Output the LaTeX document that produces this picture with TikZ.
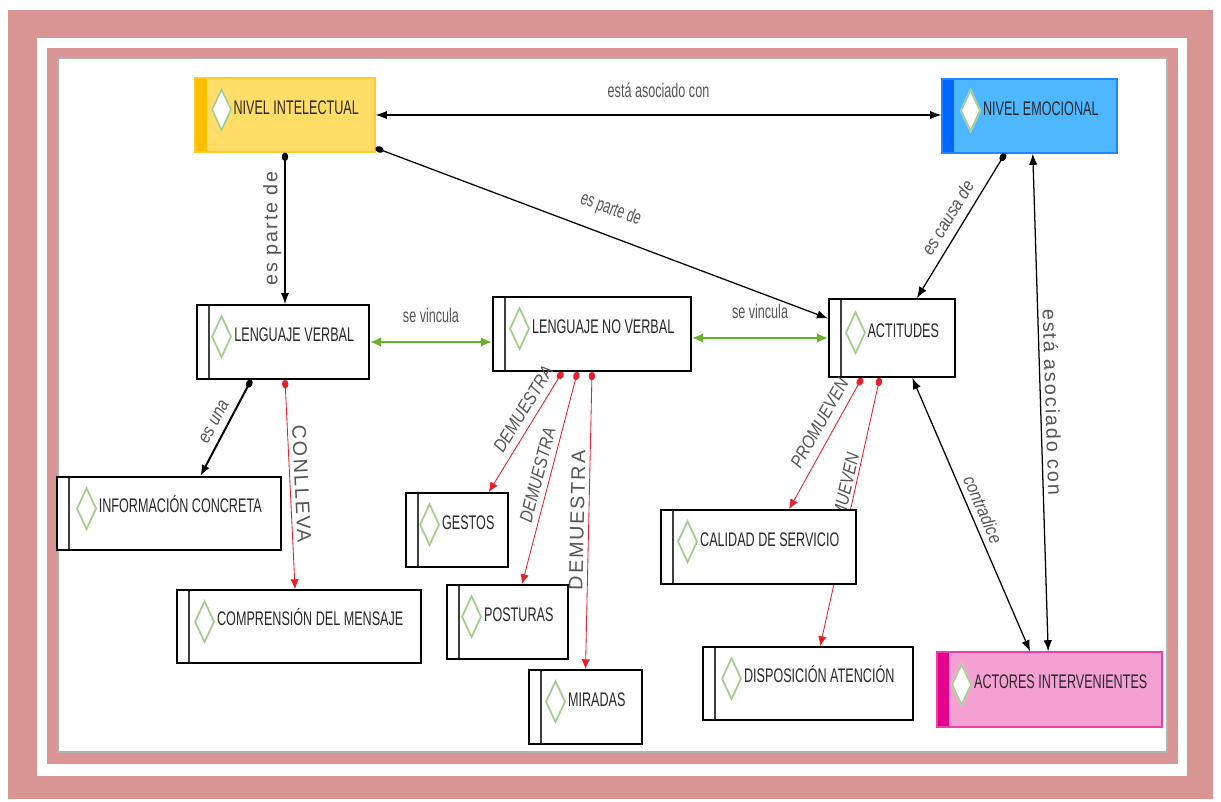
\documentclass[tikz,border=0pt]{standalone}
\usepackage{fontspec}
\usepackage{graphicx}
\setmainfont{Liberation Sans}
\newfontfamily\boxfont[FakeStretch=0.64]{Liberation Sans}
\newfontfamily\slfont[FakeStretch=0.85]{Liberation Sans}
\newfontfamily\widefont[LetterSpace=10]{Liberation Sans}
\newfontfamily\symfont{DejaVu Sans}
\usetikzlibrary{arrows.meta}

\definecolor{framepink}{RGB}{217,149,148}
\definecolor{yelfill}{RGB}{255,221,102}
\definecolor{yelbar}{RGB}{255,190,0}
\definecolor{bluefill}{RGB}{77,184,255}
\definecolor{bluebar}{RGB}{0,102,255}
\definecolor{pinkfill}{RGB}{245,160,210}
\definecolor{pinkbar}{RGB}{230,0,140}
\definecolor{dmdgreen}{RGB}{160,205,140}
\definecolor{linkgreen}{RGB}{104,178,40}
\definecolor{linkred}{RGB}{232,30,40}
\definecolor{boxtext}{RGB}{40,40,40}
\definecolor{lbltext}{RGB}{85,85,85}

\newcommand{\dmd}{\raisebox{-8pt}{\resizebox{15pt}{27pt}{\symfont\rlap{\color{white}◆}\color{dmdgreen}◇}}\hspace{1pt}}

\tikzset{
  boxbase/.style={rectangle, text=boxtext, font=\boxfont\fontsize{14}{16}\selectfont,
    text height=10pt, text depth=11pt, inner sep=2pt},
  cbox/.style={boxbase, draw=black, line width=1.2pt, fill=white,
    path picture={\draw[line width=0.9pt, black!75] ([xshift=8.5pt]path picture bounding box.south west) -- ([xshift=8.5pt]path picture bounding box.north west);}},
  keybox/.style={boxbase, draw=#1bar!60!#1fill, line width=0.8pt, fill=#1fill,
    path picture={\fill[#1bar] (path picture bounding box.south west) rectangle ([xshift=8.5pt]path picture bounding box.north west);}},
  blk/.style={draw=black, line width=0.9pt, {Circle[length=6pt,width=4.5pt]}-{Latex[length=8pt,width=6pt]}},
  blkboth/.style={draw=black, line width=0.9pt, {Latex[length=8pt,width=6pt]}-{Latex[length=8pt,width=6pt]}},
  grn/.style={draw=linkgreen, line width=1.6pt, {Latex[length=8pt,width=7pt]}-{Latex[length=8pt,width=7pt]}},
  rd/.style={draw=linkred, line width=0.6pt, {Circle[length=6pt,width=4.5pt]}-{Latex[length=7pt,width=6pt]}},
  lblc/.style={text=lbltext, font=\boxfont\fontsize{14}{16}\selectfont, inner sep=2pt},
  lbli/.style={text=lbltext, font=\slfont\itshape\fontsize{13}{15}\selectfont, inner sep=2pt},
  lblw/.style={text=lbltext, font=\widefont\fontsize{14}{16}\selectfont, inner sep=2pt}
}

\begin{document}
\begin{tikzpicture}[x=0.025cm, y=-0.025cm]
  \useasboundingbox (0,0) rectangle (1221,801);
  \fill[white] (0,0) rectangle (1221,801);
  \fill[framepink] (8,10) rectangle (1213,799);
  \fill[white] (37,38) rectangle (1187,776);
  \fill[framepink] (47,48) rectangle (1178,764);
  \fill[white] (58,58) rectangle (1167,752);
  \draw[gray!60, line width=2pt] (58,58) rectangle (1167,752);

  \node[keybox=yel, minimum width=4.5cm, minimum height=1.85cm]     (intel)    at (285,115)    {\dmd NIVEL INTELECTUAL};
  \node[keybox=blue, minimum width=4.375cm, minimum height=1.85cm]  (emoc)     at (1029.5,116) {\dmd NIVEL EMOCIONAL};
  \node[cbox, minimum width=4.3cm, minimum height=1.85cm]           (verbal)   at (283,342)    {\dmd LENGUAJE VERBAL};
  \node[cbox, minimum width=4.95cm, minimum height=1.85cm]          (noverbal) at (592,334)    {\dmd LENGUAJE NO VERBAL};
  \node[cbox, minimum width=3.15cm, minimum height=1.95cm]          (actit)    at (892,338)    {\dmd ACTITUDES};
  \node[cbox, minimum width=5.6cm, minimum height=1.825cm]          (info)     at (169,513.5)  {\dmd INFORMACIÓN CONCRETA};
  \node[cbox, minimum width=6.1cm, minimum height=1.825cm]          (compr)    at (299,626.5)  {\dmd COMPRENSIÓN DEL MENSAJE};
  \node[cbox, minimum width=2.55cm, minimum height=1.85cm]          (gestos)   at (457,530)    {\dmd GESTOS};
  \node[cbox, minimum width=3.025cm, minimum height=1.85cm]         (posturas) at (507.5,622)  {\dmd POSTURAS};
  \node[cbox, minimum width=2.825cm, minimum height=1.85cm]         (miradas)  at (585.5,707)  {\dmd MIRADAS};
  \node[cbox, minimum width=5.25cm, minimum height=1.825cm]         (dispos)   at (808,683.5)  {\dmd DISPOSICIÓN ATENCIÓN};
  \node[keybox=pink, minimum width=5.625cm, minimum height=1.875cm] (actores)  at (1049.5,689.5) {\dmd ACTORES INTERVENIENTES};

  % runs behind the calidad box
  \draw[rd] (actit.-107) -- (dispos.72) node[lbli, sloped, pos=0.47, above=0pt] {PROMUEVEN};
  \node[cbox, minimum width=4.875cm, minimum height=1.85cm]         (calidad)  at (758.5,547)  {\dmd CALIDAD DE SERVICIO};

  \draw[blkboth] (intel.east) -- (intel.east -| emoc.west) node[lblc, midway, above=10pt] {está asociado con};
  \draw[blk] (intel.-20) -- (actit.163) node[lblc, sloped, midway, above=9pt] {es parte de};
  \draw[blk] (intel.south) -- (intel.south |- verbal.north) node[lblw, midway, rotate=90, anchor=south] {es parte de};
  \draw[blk] (emoc.-123) -- (actit.58) node[lbli, sloped, midway, above=4pt] {es causa de};
  \draw[blkboth] (emoc.-85) -- (actores.92) node[lblw, sloped, midway, above=1pt] {está asociado con};
  \draw[grn] (verbal.east) -- (verbal.east -| noverbal.west) node[lblc, midway, above=11pt] {se vincula};
  \draw[grn] (actit.west -| noverbal.east) -- (actit.west) node[lblc, midway, above=11pt] {se vincula};
  \draw[blk, line width=1.4pt] (verbal.-130) -- (info.50) node[lbli, sloped, midway, above=3pt] {es una};
  \draw[rd] (verbal.-87) -- (compr.96) node[lblw, sloped, midway, above=1pt] {CONLLEVA};
  \draw[rd] (noverbal.-128) -- (gestos.50) node[lbli, sloped, pos=0.37, above=3pt] {DEMUESTRA};
  \draw[rd] (noverbal.-111) -- (posturas.69) node[lbli, sloped, pos=0.5, above=2pt] {DEMUESTRA};
  \draw[rd] (noverbal.south) -- (miradas.north) node[lblw, sloped, pos=0.5, above=1pt] {DEMUESTRA};
  \draw[rd] (actit.-127) -- (calidad.51) node[lbli, sloped, pos=0.4, above=4pt] {PROMUEVEN};
  \draw[blkboth] (actit.-63) -- (actores.117) node[lbli, sloped, pos=0.5, above=2pt] {contradice};
\end{tikzpicture}
\end{document}
